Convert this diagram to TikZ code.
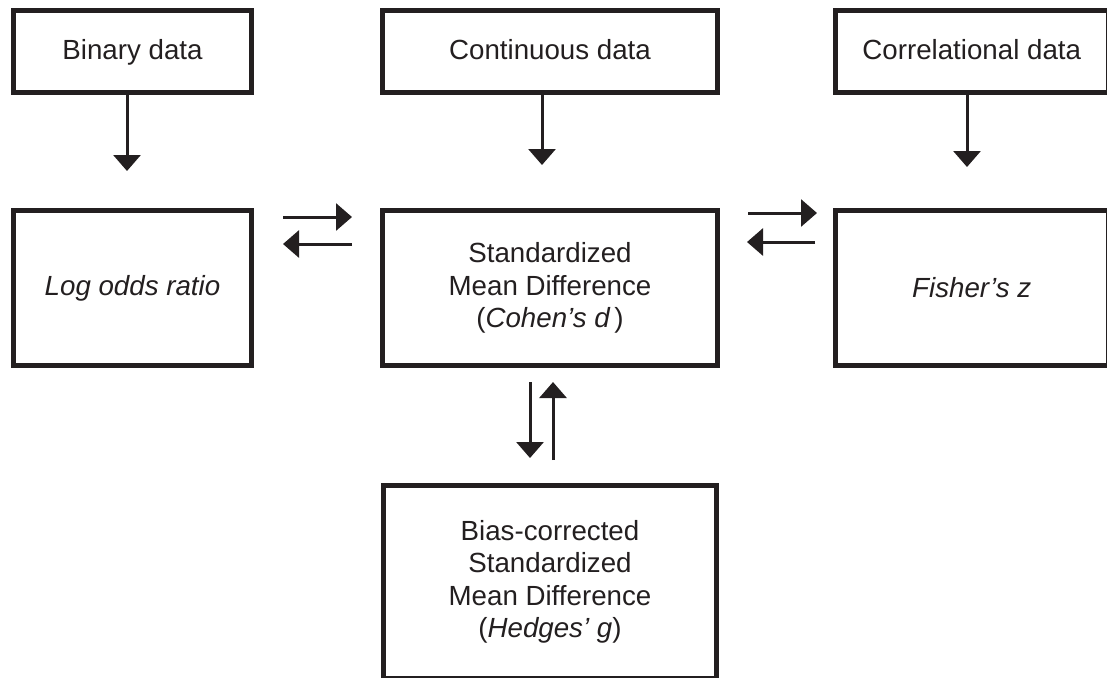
\documentclass[tikz,border=0pt]{standalone}
\usepackage{fontspec}
\setmainfont{Liberation Sans}
\usetikzlibrary{arrows.meta}
\definecolor{ink}{RGB}{35,31,32}
\begin{document}
\begin{tikzpicture}[x=0.5pt,y=-0.5pt,
  box/.style={draw=ink, line width=2.5pt, inner sep=0pt, align=center, text=ink,
    font=\fontsize{13.85pt}{16.25pt}\selectfont},
  topbox/.style={box, minimum height=41pt, text height=10pt, text depth=2pt},
  arr/.style={draw=ink, line width=1.5pt, -{Triangle[width=13.5pt,length=8pt]}}]
\useasboundingbox (0,0) rectangle (1107,677);
% top row
\node[topbox, minimum width=119pt] (bin) at (132.5,51.5) {Binary data};
\node[topbox, minimum width=167.5pt] (cont) at (550,51.5) {Continuous data};
\node[topbox, minimum width=136.25pt] (corr) at (971.75,51.5) {Correlational data};
% middle row
\node[box, minimum width=119pt, minimum height=77.5pt] (log) at (132.5,288) {\itshape Log odds ratio};
\node[box, minimum width=167.5pt, minimum height=77.5pt] (smd) at (550,288)
  {Standardized\\Mean Difference\\(\textit{Cohen’s d\,})};
\node[box, minimum width=136.25pt, minimum height=77.5pt] (fis) at (971.75,288) {\itshape Fisher’s z};
% bottom
\node[box, minimum width=166.5pt, minimum height=96.25pt] (bias) at (550,581.75)
  {Bias-corrected\\Standardized\\Mean Difference\\(\textit{Hedges’ g})};
% arrow ends
\coordinate (binT) at (127,171);
\coordinate (contT) at (542,165);
\coordinate (corrT) at (967,167);
\coordinate (lsA) at (283,217); \coordinate (lsB) at (352,217);
\coordinate (slA) at (352,244); \coordinate (slB) at (283,244);
\coordinate (sfA) at (748,213); \coordinate (sfB) at (817,213);
\coordinate (fsA) at (815,242); \coordinate (fsB) at (747,242);
\coordinate (sbA) at (530,382); \coordinate (sbB) at (530,458);
\coordinate (bsA) at (553,460); \coordinate (bsB) at (553,382);
% connectors
\draw[arr] (bin.south -| binT) -- (binT);
\draw[arr] (cont.south -| contT) -- (contT);
\draw[arr] (corr.south -| corrT) -- (corrT);
\draw[arr] (lsA) -- (lsB);
\draw[arr] (slA) -- (slB);
\draw[arr] (sfA) -- (sfB);
\draw[arr] (fsA) -- (fsB);
\draw[arr] (sbA) -- (sbB);
\draw[arr] (bsA) -- (bsB);
\end{tikzpicture}
\end{document}
